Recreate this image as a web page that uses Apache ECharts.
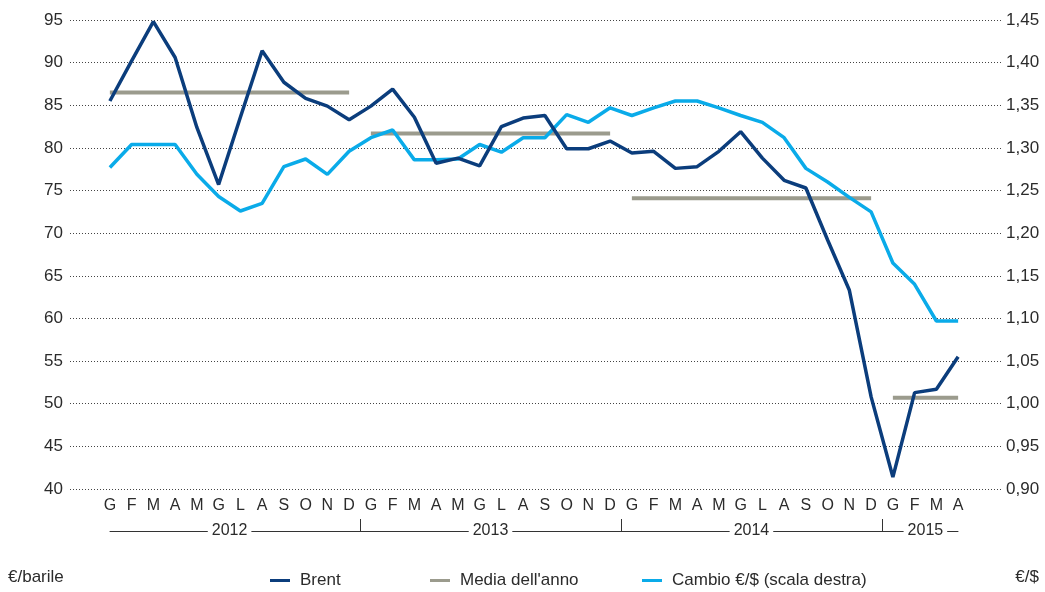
<!DOCTYPE html>
<html>
<head>
<meta charset="utf-8">
<script src="https://cdn.jsdelivr.net/npm/echarts@6/dist/echarts.min.js"></script>
<style>
  html, body { margin: 0; padding: 0; background: #fff; }
  #chart-container { width: 1045px; height: 592px; }
</style>
</head>
<body>
<div id="chart-container"></div>
<script>
var months = ['G', 'F', 'M', 'A', 'M', 'G', 'L', 'A', 'S', 'O', 'N', 'D'];
var years = ['2012', '2013', '2014', '2015'];
var monthsPerYear = [12, 12, 12, 4];

// Brent, €/barile
var brent = [
  85.5, 90.2, 94.8, 90.6, 82.4, 75.7, 83.6, 91.4, 87.7, 85.8, 84.9, 83.3,
  84.9, 86.9, 83.6, 78.2, 78.8, 77.9, 82.5, 83.5, 83.8, 79.9, 79.9, 80.8,
  79.4, 79.6, 77.6, 77.8, 79.6, 81.9, 78.8, 76.2, 75.3, 69.2, 63.3, 50.8,
  41.4, 51.3, 51.7, 55.5
];
// Cambio €/$, scala destra
var cambio = [
  1.277, 1.304, 1.304, 1.304, 1.269, 1.243, 1.226, 1.235, 1.278, 1.287, 1.269, 1.296,
  1.312, 1.321, 1.286, 1.286, 1.287, 1.304, 1.295, 1.312, 1.312, 1.339, 1.330, 1.347,
  1.338, 1.347, 1.355, 1.355, 1.347, 1.338, 1.330, 1.312, 1.276, 1.260, 1.242, 1.225,
  1.165, 1.140, 1.097, 1.097
];
// media dell'anno del Brent
var media = [86.5, 81.7, 74.1, 50.7];

var textColor = '#2b2b2b';
var fontFamily = '"Liberation Sans", Arial, sans-serif';

var categories = [];
years.forEach(function (y, i) {
  for (var m = 0; m < monthsPerYear[i]; m++) categories.push(months[m]);
});

// year axis: half-month steps between first and last month centres
var yearCats = [];
for (var k = 0; k < 2 * categories.length - 1; k++) yearCats.push('');
var sepIdx = [];
var start = 0;
years.forEach(function (y, i) {
  yearCats[2 * start + monthsPerYear[i] - 1] = y;
  if (start > 0) sepIdx.push(2 * start - 1);
  start += monthsPerYear[i];
});

var mediaSeries = [];
start = 0;
media.forEach(function (v, i) {
  var d = categories.map(function () { return null; });
  for (var m = 0; m < monthsPerYear[i]; m++) d[start + m] = v;
  start += monthsPerYear[i];
  mediaSeries.push({
    name: "Media dell'anno",
    type: 'line',
    xAxisIndex: 1,
    yAxisIndex: 2,
    data: d,
    symbol: 'none',
    z: 1,
    lineStyle: { color: '#9b9b8d', width: 4 },
    itemStyle: { color: '#9b9b8d' }
  });
});

var chartDom = document.getElementById('chart-container');
var myChart = echarts.init(chartDom);
var option;

option = {
  animation: false,
  textStyle: { fontFamily: fontFamily },
  grid: [
    { left: 70, right: 43, top: 20, bottom: 103 },
    { left: 99, right: 76, top: 20, bottom: 103 },
    { left: 110, right: 87, top: 20, bottom: 61 }
  ],
  xAxis: [
    { type: 'value', gridIndex: 0, show: false, min: 0, max: 1 },
    {
      type: 'category',
      gridIndex: 1,
      data: categories,
      axisLine: { show: false },
      axisTick: { show: false },
      axisLabel: { interval: 0, margin: 9, color: textColor, fontSize: 16, fontFamily: fontFamily }
    },
    {
      type: 'category',
      gridIndex: 2,
      data: yearCats,
      boundaryGap: false,
      axisLine: { show: true, lineStyle: { color: '#333', width: 1 } },
      axisTick: {
        show: true,
        inside: true,
        length: 12,
        interval: function (idx) { return sepIdx.indexOf(idx) >= 0; },
        lineStyle: { color: '#333', width: 1 }
      },
      axisLabel: {
        interval: 0,
        margin: 0,
        verticalAlign: 'middle',
        formatter: function (v) { return v ? '{y|' + v + '}' : ''; },
        rich: {
          y: { backgroundColor: '#fff', padding: [0, 4], color: textColor, fontSize: 16, fontFamily: fontFamily }
        }
      }
    }
  ],
  yAxis: [
    {
      type: 'value', gridIndex: 0, position: 'left',
      min: 40, max: 95, interval: 5,
      axisLine: { show: false }, axisTick: { show: false },
      axisLabel: { margin: 7, color: textColor, fontSize: 17, fontFamily: fontFamily },
      splitLine: { show: true, lineStyle: { color: '#444', width: 1, type: [1, 2] } }
    },
    {
      type: 'value', gridIndex: 0, position: 'right',
      min: 0.9, max: 1.45, interval: 0.05,
      axisLine: { show: false }, axisTick: { show: false },
      axisLabel: {
        margin: 4, color: textColor, fontSize: 17, fontFamily: fontFamily,
        formatter: function (v) { return v.toFixed(2).replace('.', ','); }
      },
      splitLine: { show: false }
    },
    { type: 'value', gridIndex: 1, min: 40, max: 95, interval: 5, show: false, splitLine: { show: false } },
    { type: 'value', gridIndex: 1, min: 0.9, max: 1.45, interval: 0.05, show: false, splitLine: { show: false } },
    { type: 'value', gridIndex: 2, show: false, splitLine: { show: false } }
  ],
  legend: [
    {
      data: ['Brent'], left: 265, top: 567,
      icon: 'rect', itemWidth: 20, itemHeight: 3,
      textStyle: { color: textColor, fontSize: 17, fontFamily: fontFamily, padding: [0, 0, 0, 5] }
    },
    {
      data: ["Media dell'anno"], left: 425, top: 567,
      icon: 'rect', itemWidth: 20, itemHeight: 3,
      textStyle: { color: textColor, fontSize: 17, fontFamily: fontFamily, padding: [0, 0, 0, 5] }
    },
    {
      data: ['Cambio €/$ (scala destra)'], left: 637, top: 567,
      icon: 'rect', itemWidth: 20, itemHeight: 3,
      textStyle: { color: textColor, fontSize: 17, fontFamily: fontFamily, padding: [0, 0, 0, 5] }
    }
  ],
  graphic: [
    { type: 'text', left: 8, top: 569, style: { text: '€/barile', fill: textColor, font: '17px ' + fontFamily } },
    { type: 'text', right: 6, top: 569, style: { text: '€/$', fill: textColor, font: '17px ' + fontFamily } }
  ],
  series: mediaSeries.concat([
    {
      name: 'Brent',
      type: 'line',
      xAxisIndex: 1,
      yAxisIndex: 2,
      data: brent,
      symbol: 'none',
      z: 3,
      lineStyle: { color: '#0b3d7c', width: 3.5 },
      itemStyle: { color: '#0b3d7c' }
    },
    {
      name: 'Cambio €/$ (scala destra)',
      type: 'line',
      xAxisIndex: 1,
      yAxisIndex: 3,
      data: cambio,
      symbol: 'none',
      z: 2,
      lineStyle: { color: '#0aabe9', width: 3.5 },
      itemStyle: { color: '#0aabe9' }
    }
  ])
};

option && myChart.setOption(option);
</script>
</body>
</html>
